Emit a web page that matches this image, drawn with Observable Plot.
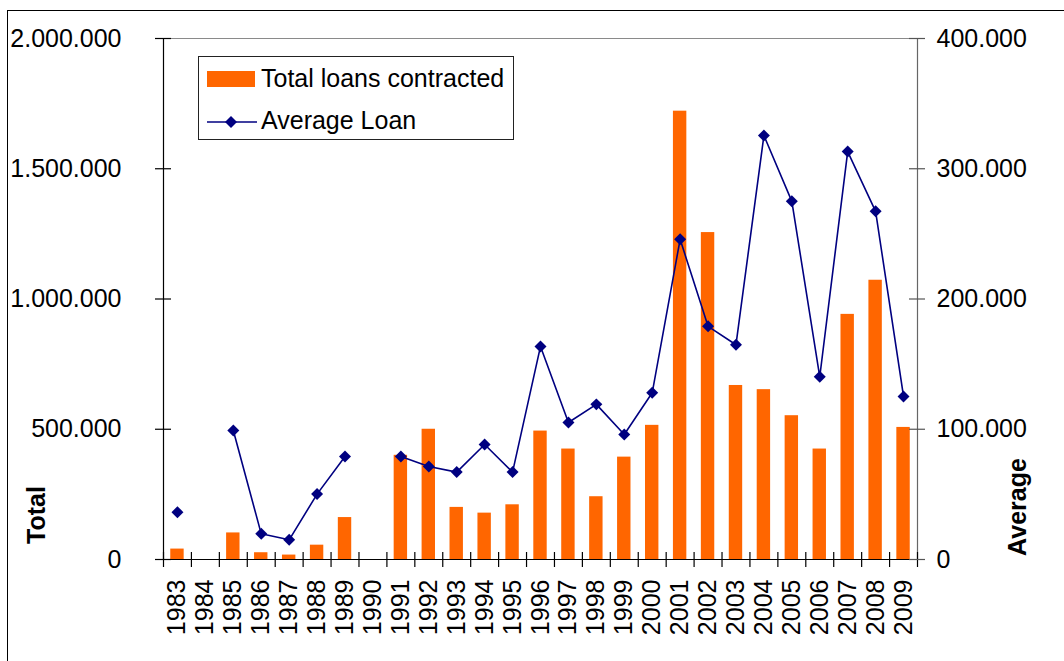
<!DOCTYPE html>
<html><head><meta charset="utf-8">
<script src="https://cdn.jsdelivr.net/npm/d3@7"></script>
<script src="https://cdn.jsdelivr.net/npm/@observablehq/plot@0.6"></script>
<style>
body{margin:0;background:#fff;font-family:"Liberation Sans",Arial,sans-serif;}
#wrap{position:relative;width:1064px;height:661px;overflow:hidden;background:#fff;}
#wrap svg{position:absolute;left:0;top:0;}
#border{position:absolute;left:7px;top:10px;width:1100px;height:700px;border-top:1px solid #000;border-left:1px solid #000;}
.ttl{position:absolute;font-weight:bold;font-size:25px;white-space:nowrap;transform:translate(-50%,-50%) rotate(-90deg);color:#000;}
#legend{position:absolute;left:198px;top:56px;width:316px;height:84px;border:1px solid #222;box-sizing:border-box;background:#fff;}
.li{position:absolute;left:62px;font-size:25px;white-space:nowrap;color:#000;line-height:25px;}
</style>
</head><body>
<div id="wrap">
  <div id="border"></div>
</div>
<script>
const years = [1983,1984,1985,1986,1987,1988,1989,1990,1991,1992,1993,1994,1995,1996,1997,1998,1999,2000,2001,2002,2003,2004,2005,2006,2007,2008,2009];
const totals = [40000,null,102000,26000,17000,55000,161000,null,400000,500000,200000,178000,210000,493000,424000,241000,393000,515000,1721000,1255000,668000,652000,552000,424000,941000,1072000,507000];
const averages = [36300,null,99000,19700,15100,50200,79100,null,79100,71400,67100,88300,67100,163600,105200,119100,96000,128000,245800,179000,164900,325500,275000,140300,313200,267300,125200];
const leftTicks = [0,500000,1000000,1500000,2000000];
const rightTicks = [0,100000,200000,300000,400000];
const seriesNames = ["Total loans contracted","Average Loan"];
const axisTitles = ["Total","Average"];

const ratio = leftTicks[leftTicks.length-1] / rightTicks[rightTicks.length-1];
const data = years.map((y,i)=>({year:y,total:totals[i],avg:averages[i]}));
const xDomain = [years[0]-0.5, years[years.length-1]+0.5];
const bounds = years.map(y=>y-0.5).concat([xDomain[1]]);
const loc = d3.formatLocale({decimal:",",thousands:".",grouping:[3],currency:["",""]});
const fmt = loc.format(",d");
const ORANGE = "#FF6600", NAVY = "#000080";

const chart = Plot.plot({
  width: 1064, height: 661,
  marginLeft: 163, marginRight: 147, marginTop: 38, marginBottom: 102,
  style: {fontFamily: '"Liberation Sans", Arial, sans-serif', fontSize: "25px", color: "#000", background: "transparent"},
  x: {type: "linear", domain: xDomain},
  y: {domain: [0, leftTicks[leftTicks.length-1]]},
  marks: [
    Plot.ruleY([leftTicks[leftTicks.length-1]], {stroke: "#8a8a8a", strokeWidth: 1.2}),
    Plot.ruleX([xDomain[1]], {stroke: "#666", strokeWidth: 1.2}),
    Plot.rect(data.filter(d=>d.total!=null), {x1: d=>d.year-0.24, x2: d=>d.year+0.24, y1: 0, y2: "total", fill: ORANGE}),
    Plot.line(data, {x: "year", y: d=> d.avg==null ? NaN : d.avg*ratio, stroke: NAVY, strokeWidth: 1.6}),
    Plot.dot(data.filter(d=>d.avg!=null), {x: "year", y: d=>d.avg*ratio, symbol: "diamond2", r: 5.4, fill: NAVY, stroke: "none"}),
    Plot.ruleX([xDomain[0]], {stroke: "#000", strokeWidth: 1.2}),
    Plot.ruleY([0], {stroke: "#000", strokeWidth: 1.2, insetLeft: -8, insetRight: -8}),
    Plot.ruleX(bounds, {y1: 0, y2: 0, insetTop: -7, insetBottom: -8, stroke: "#000", strokeWidth: 1.2}),
    Plot.ruleY(leftTicks, {x1: xDomain[0], x2: xDomain[0], insetLeft: -8, insetRight: -8, stroke: "#000", strokeWidth: 1.2}),
    Plot.ruleY(leftTicks, {x1: xDomain[1], x2: xDomain[1], insetLeft: -8, insetRight: -8, stroke: "#555", strokeWidth: 1.2}),
    Plot.axisY({ticks: leftTicks, tickSize: 0, tickPadding: 42, tickFormat: fmt, fontSize: 25, label: null}),
    Plot.axisY({anchor: "right", ticks: leftTicks, tickSize: 0, tickPadding: 19, tickFormat: d=>fmt(d/ratio), fontSize: 25, label: null}),
    Plot.axisX({ticks: years, tickSize: 0, tickPadding: 20, tickRotate: -90, tickFormat: d=>String(d), fontSize: 25, label: null})
  ]
});
const wrap = document.getElementById("wrap");
wrap.insertBefore(chart, wrap.firstChild);

function addTitle(text, cx, cy){
  const d = document.createElement("div");
  d.className = "ttl"; d.textContent = text;
  d.style.left = cx + "px"; d.style.top = cy + "px";
  wrap.appendChild(d);
}
addTitle(axisTitles[0], 36, 515);
addTitle(axisTitles[1], 1017, 507);

const lg = document.createElement("div");
lg.id = "legend";
lg.innerHTML =
  '<div style="position:absolute;left:8px;top:14px;width:48px;height:16px;background:'+ORANGE+'"></div>' +
  '<div class="li" style="top:9px">'+seriesNames[0]+'</div>' +
  '<svg style="position:absolute;left:8px;top:58px" width="50" height="14"><line x1="0" y1="7" x2="50" y2="7" stroke="'+NAVY+'" stroke-width="1.6"/><path d="M24,1 L30,7 L24,13 L18,7 Z" fill="'+NAVY+'"/></svg>' +
  '<div class="li" style="top:51px">'+seriesNames[1]+'</div>';
wrap.appendChild(lg);
</script>
</body></html>
